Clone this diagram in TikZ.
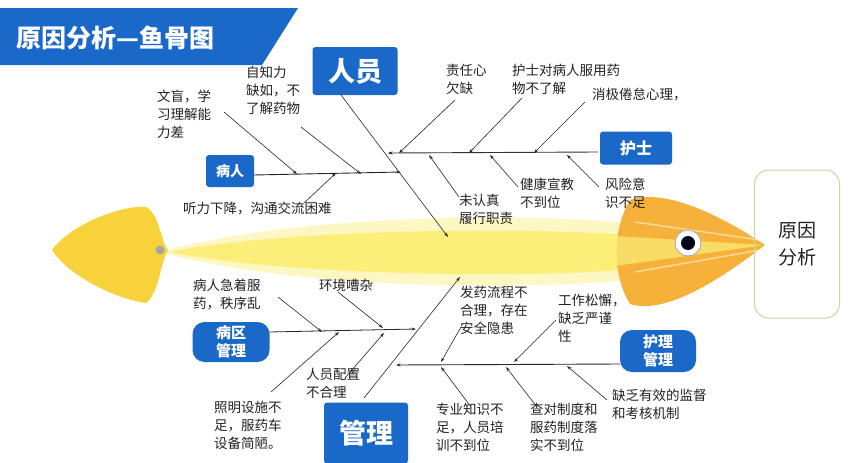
\documentclass[tikz,border=0pt]{standalone}
\usepackage{fontspec}
\setmainfont{Noto Sans CJK SC}
\usetikzlibrary{arrows.meta}
\definecolor{bblue}{HTML}{1A69C8}
\definecolor{fishY}{HTML}{F8D23A}
\definecolor{bodyY}{HTML}{FBEF7A}
\definecolor{headO}{HTML}{F6B13A}
\definecolor{frameG}{HTML}{CCD79C}
\definecolor{txt}{HTML}{222222}
\begin{document}
\begin{tikzpicture}[x=1pt,y=-1pt,
  box/.style={fill=bblue,text=white,font=\bfseries,inner sep=0pt,rounded corners=3pt},
  lbl/.style={anchor=north west,align=left,inner sep=0pt,text=txt,font=\fontsize{13.5}{18}\selectfont},
  arr/.style={draw=black!85,line width=0.6pt,-{Stealth[length=4.5pt,width=3pt]}},
  ln/.style={draw=black!80,line width=0.9pt}]
\useasboundingbox (0,0) rectangle (849,463);
\fill[white] (0,0) rectangle (849,463);
% fish
\fill[bodyY,opacity=0.45] (160,252) .. controls (300,212) and (560,212) .. (650,226) -- (650,278) .. controls (560,290) and (300,292) .. (160,252) -- cycle;
\fill[bodyY] (170,252) .. controls (300,226) and (560,228) .. (640,236) -- (640,268) .. controls (560,278) and (300,278) .. (170,252) -- cycle;
\fill[fishY] (52,250) .. controls (70,225) and (120,205) .. (146,207) .. controls (160,215) and (160,240) .. (168,250) .. controls (160,262) and (160,292) .. (146,303) .. controls (120,300) and (70,278) .. (52,250) -- cycle;
\fill[gray!70] (160,250) circle (4.5);
\fill[headO] (630,200) .. controls (665,188) and (720,215) .. (765,245) .. controls (720,280) and (665,315) .. (630,304) .. controls (612,275) and (612,230) .. (630,200) -- cycle;
\fill[bodyY,opacity=0.7] (615,236) -- (765,245) -- (615,266) -- cycle;
\draw[white,opacity=0.5,line width=1.5pt] (635,222) -- (760,240) (635,272) -- (760,250);
\fill[white] (688,243) circle (13);
\draw[gray!60,line width=1pt] (688,243) circle (13);
\fill[black!90!blue] (688,243) circle (7);
\node[draw=frameG,line width=1pt,rounded corners=14pt,minimum width=85pt,minimum height=148pt,align=center,font=\fontsize{19}{27}\selectfont,text=txt] (head) at (797,244) {原因\\分析};
% title
\fill[bblue] (0,8) -- (298,8) -- (262,65) -- (0,65) -- cycle;
\node[text=white,font=\bfseries\fontsize{25}{25}\selectfont,anchor=west,inner sep=0pt] (title) at (16,38) {原因分析—鱼骨图};
% boxes
\node[box,minimum width=85pt,minimum height=48pt,font=\bfseries\fontsize{27}{27}\selectfont] (ry) at (355,71) {人员};
\node[box,minimum width=72pt,minimum height=33pt,font=\bfseries\fontsize{16}{16}\selectfont] (hs) at (636,148) {护士};
\node[box,minimum width=48pt,minimum height=32pt,font=\bfseries\fontsize{14}{14}\selectfont] (br) at (230,171) {病人};
\node[box,minimum width=77pt,minimum height=40pt,rounded corners=12pt,align=center,font=\bfseries\fontsize{15}{18}\selectfont] (bq) at (231,342) {病区\\管理};
\node[box,minimum width=76pt,minimum height=42pt,rounded corners=12pt,align=center,font=\bfseries\fontsize{15}{18}\selectfont] (hl) at (658,351) {护理\\管理};
\node[box,minimum width=84pt,minimum height=61pt,font=\bfseries\fontsize{27}{27}\selectfont] (gl) at (366,433) {管理};
% coordinates upper
\coordinate (hsL) at (389,153); \coordinate (hsR) at (598,152);
\coordinate (brR) at (401,172); \coordinate (brL) at (254,175);
\coordinate (ryS) at (341,95); \coordinate (ryE) at (448,237);
\draw[ln] (hsR) -- (hsL);
\draw[arr] (hsL) -- +(-1,0);
\draw[arr,line width=0.9pt] (brL) -- (brR);
\draw[arr] (ryS) -- (ryE);
\coordinate (a1) at (224,112); \coordinate (a1e) at (297,174);
\coordinate (a2) at (301,127); \coordinate (a2e) at (361,174);
\coordinate (a3) at (304,203); \coordinate (a3e) at (336,173);
\coordinate (a4) at (455,100); \coordinate (a4e) at (399,153);
\coordinate (a5) at (522,98); \coordinate (a5e) at (469,153);
\coordinate (a6) at (585,102); \coordinate (a6e) at (534,153);
\coordinate (a7) at (459,197); \coordinate (a7e) at (429,155);
\coordinate (a8) at (518,187); \coordinate (a8e) at (490,155);
\coordinate (a9) at (599,187); \coordinate (a9e) at (567,155);
\foreach \p in {1,...,9} {\draw[arr] (a\p) -- (a\p e);}
% lower
\coordinate (bqL) at (269,332); \coordinate (bqR) at (416,329);
\coordinate (glS) at (364,398); \coordinate (glE) at (460,277);
\coordinate (hlR) at (620,364); \coordinate (hlL) at (396,365);
\draw[arr,line width=0.8pt] (bqL) -- (bqR);
\draw[arr] (glS) -- (glE);
\draw[arr,line width=0.9pt] (hlR) -- (hlL);
\coordinate (b1) at (278,297); \coordinate (b1e) at (322,332);
\coordinate (b2) at (338,292); \coordinate (b2e) at (383,328);
\coordinate (b3) at (271,392); \coordinate (b3e) at (339,332);
\coordinate (b4) at (345,378); \coordinate (b4e) at (384,333);
\coordinate (b5) at (461,327); \coordinate (b5e) at (441,362);
\coordinate (b6) at (556,320); \coordinate (b6e) at (514,362);
\coordinate (b7) at (471,407); \coordinate (b7e) at (441,367);
\coordinate (b8) at (537,407); \coordinate (b8e) at (506,367);
\coordinate (b9) at (607,400); \coordinate (b9e) at (567,366);
\foreach \p in {1,...,9} {\draw[arr] (b\p) -- (b\p e);}
% labels
\node[lbl] (t1) at (157,90) {文盲，学\\习理解能\\力差};
\node[lbl] (t2) at (246,66) {自知力\\缺如，不\\了解药物};
\node[lbl] (t3) at (183,202) {听力下降，沟通交流困难};
\node[lbl] (t4) at (446,64) {责任心\\欠缺};
\node[lbl] (t5) at (512,64) {护士对病人服用药\\物不了解};
\node[lbl] (t6) at (592,88) {消极倦怠心理，};
\node[lbl] (t7) at (459,194) {未认真\\履行职责};
\node[lbl] (t8) at (520,178) {健康宣教\\不到位};
\node[lbl] (t9) at (605,178) {风险意\\识不足};
\node[lbl] (u1) at (193,279) {病人急着服\\药，秩序乱};
\node[lbl] (u2) at (319,279) {环境嘈杂};
\node[lbl] (u3) at (214,401) {照明设施不\\足，服药车\\设备简陋。};
\node[lbl] (u4) at (306,368) {人员配置\\不合理};
\node[lbl] (u5) at (460,286) {发药流程不\\合理，存在\\安全隐患};
\node[lbl] (u6) at (558,294) {工作松懈，\\缺乏严谨\\性};
\node[lbl] (u7) at (436,403) {专业知识不\\足，人员培\\训不到位};
\node[lbl] (u8) at (530,403) {查对制度和\\服药制度落\\实不到位};
\node[lbl] (u9) at (612,389) {缺乏有效的监督\\和考核机制};
\end{tikzpicture}
\end{document}
